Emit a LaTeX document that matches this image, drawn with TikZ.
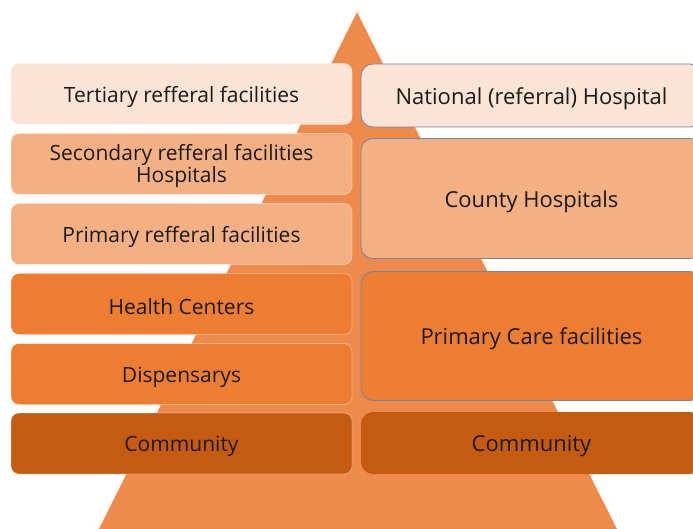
\documentclass[tikz,border=0pt]{standalone}
\usepackage{fontspec}
\setmainfont{Open Sans}
\definecolor{lightor}{HTML}{FBE4D6}
\definecolor{medor}{HTML}{F3B183}
\definecolor{midor}{HTML}{ED7D31}
\definecolor{darkor}{HTML}{C55A11}
\definecolor{trior}{HTML}{EE8A4B}
\definecolor{edgeb}{HTML}{7585A6}
\definecolor{txt}{HTML}{1A1A1A}
\begin{document}
\begin{tikzpicture}[x=1pt,y=-1pt,
  lbox/.style={rounded corners=8pt, minimum width=341pt, minimum height=61pt, inner sep=0pt, outer sep=0pt, text=txt, font=\fontsize{21}{22}\selectfont, align=center, draw=white, draw opacity=0.35, line width=0.8pt, text height=22pt},
  rbox/.style={rounded corners=12pt, minimum width=341pt, inner sep=0pt, outer sep=0pt, text=txt, font=\fontsize{22}{22}\selectfont, align=center, text height=23pt},
  bord/.style={draw=edgeb, line width=0.8pt}]
\useasboundingbox (0,0) rectangle (693,529);
\clip (0,0) rectangle (693,529);
\fill[trior] (357,12) -- (89,549) -- (627,549) -- cycle;
% left column
\node[lbox, fill=lightor] (t1) at (181.5,94) {Tertiary refferal facilities};
\node[lbox, fill=medor, text height=42pt] (s1) at (181.5,164) {Secondary refferal facilities\\Hospitals};
\node[lbox, fill=medor] (p1) at (181.5,234) {Primary refferal facilities};
\node[lbox, fill=midor] (h1) at (181.5,304) {Health Centers};
\node[lbox, fill=midor] (d1) at (181.5,374) {Dispensarys};
\node[lbox, fill=darkor] (c1) at (181.5,443.5) {Community};
% right column
\node[rbox, bord, fill=lightor, minimum height=63pt] (n2) at (531.5,95.5) {National (referral) Hospital};
\node[rbox, bord, fill=medor, minimum height=120pt] (co2) at (531.5,198.5) {County Hospitals};
\node[rbox, bord, fill=midor, minimum height=129pt] (pc2) at (531.5,336) {Primary Care facilities};
\node[rbox, fill=darkor, minimum height=62pt] (c2) at (531.5,443) {Community};
\end{tikzpicture}
\end{document}
